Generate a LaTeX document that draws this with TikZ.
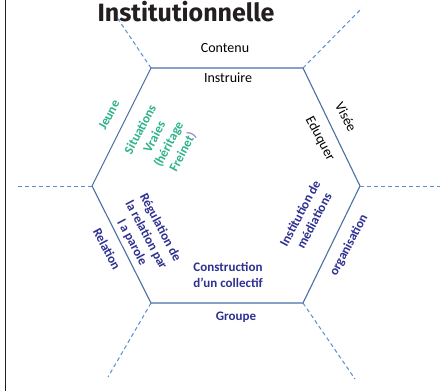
\documentclass[tikz,border=0pt]{standalone}
\usepackage{fontspec}
\setmainfont{Carlito}
\newfontfamily\titlefont{Fira Sans}
\definecolor{hexline}{HTML}{4A6FA5}
\definecolor{dashline}{HTML}{5B8ED6}
\definecolor{txtgreen}{HTML}{2DB38A}
\definecolor{txtblue}{HTML}{2E3192}
\definecolor{parpurple}{HTML}{A08AD0}
\definecolor{titlegray}{HTML}{231F20}
\begin{document}
\begin{tikzpicture}[x=1pt,y=-1pt,
  hexedge/.style={draw=hexline,line width=1.1pt,line join=round},
  ext/.style={draw=dashline,line width=1pt,dash pattern=on 4pt off 3pt},
  lab/.style={font=\fontsize{14}{16}\selectfont,text=black,inner sep=0pt,align=center},
  blab/.style={font=\bfseries\fontsize{13}{16}\selectfont,text=txtblue,inner sep=0pt,align=center},
  glab/.style={font=\bfseries\fontsize{13}{16}\selectfont,text=txtgreen,inner sep=0pt,align=center},
  up/.style={rotate=62},
  down/.style={rotate=-62}]
\useasboundingbox (0,0) rectangle (442,391);
\fill[white] (0,0) rectangle (442,391);
\draw[titlegray,line width=1.5pt] (5.5,0) -- (5.5,391);
% hexagon vertices
\coordinate (tl) at (151,68);
\coordinate (tr) at (303,68);
\coordinate (r) at (360,186);
\coordinate (br) at (303,303);
\coordinate (bl) at (151,303);
\coordinate (l) at (92,186);
% dashed extension ends
\coordinate (etl) at (114,13);
\coordinate (etr) at (362,8);
\coordinate (el) at (16,186);
\coordinate (er) at (440,186);
\coordinate (ebl) at (108,377);
\coordinate (ebr) at (355,379);
\draw[ext] (tl) -- (etl);
\draw[ext] (tr) -- (etr);
\draw[ext] (l) -- (el);
\draw[ext] (r) -- (er);
\draw[ext] (bl) -- (ebl);
\draw[ext] (br) -- (ebr);
\draw[hexedge] (tl) -- (tr) -- (r) -- (br) -- (bl) -- (l) -- cycle;
% title
\node[anchor=base,inner sep=0pt,text=titlegray,font=\titlefont\bfseries\fontsize{25}{28}\selectfont] (title) at (186,21) {Institutionnelle};
% labels
\node[lab] (contenu) at (225,48) {Contenu};
\node[lab] (instruire) at (228,78) {Instruire};
\node[lab,down] (visee) at (346,117) {Visée};
\node[lab,down] (eduquer) at (320,139) {Eduquer};
\node[glab,up] (jeune) at (109,115) {Jeune};
\node[glab,up] (situations) at (162,141) {Situations\\Vraies\\(héritage\\Freinet\textcolor{parpurple}{)}};
\node[blab,down] (regulation) at (146,235) {Régulation de\\la relation par\\l a parole};
\node[blab,down] (relation) at (107,249) {Relation};
\node[blab,up] (institution) at (307,217) {Institution de\\médiations};
\node[blab,up] (organisation) at (349,245) {organisation};
\node[blab] (construction) at (228,275) {Construction\\d’un collectif};
\node[blab] (groupe) at (236,317) {Groupe};
\end{tikzpicture}
\end{document}
